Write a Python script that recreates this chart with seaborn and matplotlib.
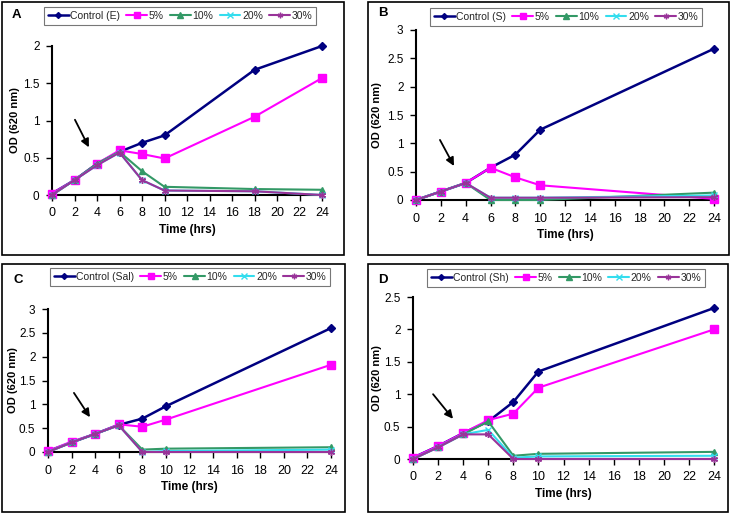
import matplotlib
matplotlib.use("Agg")
import matplotlib.pyplot as plt
import seaborn as sns
import pandas as pd
from matplotlib.patches import Rectangle
from matplotlib.lines import Line2D
from matplotlib.ticker import FuncFormatter, MultipleLocator

sns.set_theme(style="white")
plt.rcParams['font.family'] = ['Liberation Sans', 'DejaVu Sans']

# ---------------- data ----------------
time_A = [0, 2, 4, 6, 8, 10, 18, 24]
time_BCD = [0, 2, 4, 6, 8, 10, 24]

series_names = ["Control", "5%", "10%", "20%", "30%"]
control_labels = ["Control (E)", "Control (S)", "Control (Sal)", "Control (Sh)"]

A_control = [0.02, 0.20, 0.42, 0.58, 0.70, 0.80, 1.68, 2.00]
A_5 = [0.02, 0.20, 0.42, 0.60, 0.55, 0.49, 1.05, 1.57]
A_10 = [0.00, 0.20, 0.42, 0.58, 0.32, 0.11, 0.08, 0.07]
A_20 = [0.00, 0.20, 0.40, 0.57, 0.20, 0.06, 0.05, 0.00]
A_30 = [0.00, 0.20, 0.40, 0.57, 0.20, 0.06, 0.05, 0.00]

B_control = [0.00, 0.15, 0.30, 0.57, 0.80, 1.24, 2.67]
B_5 = [0.00, 0.15, 0.30, 0.57, 0.40, 0.26, 0.02]
B_10 = [0.00, 0.15, 0.30, 0.00, 0.00, 0.00, 0.13]
B_20 = [0.00, 0.15, 0.30, 0.04, 0.04, 0.04, 0.08]
B_30 = [0.00, 0.15, 0.30, 0.04, 0.04, 0.04, 0.05]

C_control = [0.02, 0.20, 0.38, 0.57, 0.70, 0.96, 2.60]
C_5 = [0.02, 0.22, 0.38, 0.58, 0.53, 0.68, 1.83]
C_10 = [0.00, 0.20, 0.38, 0.56, 0.05, 0.07, 0.10]
C_20 = [0.00, 0.20, 0.38, 0.56, 0.00, 0.02, 0.05]
C_30 = [0.00, 0.20, 0.38, 0.56, 0.00, 0.00, 0.00]

D_control = [0.02, 0.20, 0.40, 0.58, 0.88, 1.35, 2.33]
D_5 = [0.02, 0.20, 0.40, 0.60, 0.70, 1.10, 2.00]
D_10 = [0.00, 0.18, 0.38, 0.58, 0.05, 0.08, 0.11]
D_20 = [0.00, 0.18, 0.38, 0.45, 0.02, 0.04, 0.05]
D_30 = [0.00, 0.18, 0.38, 0.38, 0.00, 0.00, 0.00]

y_max = [2.0, 3.0, 3.0, 2.5]
panel_letters = ["A", "B", "C", "D"]
x_label = "Time (hrs)"
y_label = "OD (620 nm)"

# ---------------- styles ----------------
colors = ["#000080", "#FF00FF", "#339966", "#33DDEE", "#993399"]
markers = ["D", "s", "^", "x", (6, 2, 0)]
msizes = [4, 6, 5, 5, 5]
lwidths = [1.8, 1.5, 1.5, 1.5, 1.5]

W, H = 730, 515
fig = plt.figure(figsize=(W / 100, H / 100), dpi=100)
fig.patch.set_facecolor("white")

def fx(px):
    return px / W

def fy(py):
    return 1 - py / H

# axes pixel geometry: (x0, x24, ytop, ybottom)
axes_px = [(52, 322, 46, 195), (416, 714, 30, 200), (48, 331, 309, 452), (413, 714, 297, 459)]
boxes_px = [(2, 2, 344, 255), (368, 2, 729, 255), (2, 264, 345, 512), (368, 264, 728, 512)]
legend_px = [(180, 16), (566, 17), (190, 277), (566, 278)]
letter_px = [(12, 15), (378, 13), (14, 280), (378, 280)]
ylabel_x_px = [20, 382, 18, 382]   # right edge of the rotated label
arrows = [((2.04, 1.01), (3.28, 0.64)), ((1.93, 1.06), (3.06, 0.60)),
          ((2.2, 1.24), (3.56, 0.73)), ((1.6, 1.0), (3.19, 0.62))]

panels = [
    (time_A, [A_control, A_5, A_10, A_20, A_30]),
    (time_BCD, [B_control, B_5, B_10, B_20, B_30]),
    (time_BCD, [C_control, C_5, C_10, C_20, C_30]),
    (time_BCD, [D_control, D_5, D_10, D_20, D_30]),
]

for i, (times, ys) in enumerate(panels):
    bx0, by0, bx1, by1 = boxes_px[i]
    fig.patches.append(Rectangle((fx(bx0), fy(by1)), fx(bx1 - bx0), (by1 - by0) / H,
                                 transform=fig.transFigure, fill=False,
                                 edgecolor="black", linewidth=1.2))
    x0, x1, yt, yb = axes_px[i]
    ax = fig.add_axes([fx(x0), fy(yb), fx(x1 - x0), (yb - yt) / H])
    ax.set_facecolor("none")
    order = [2, 3, 4, 1, 0]
    for j in order:
        df = pd.DataFrame({"t": times, "od": ys[j]})
        sns.lineplot(data=df, x="t", y="od", ax=ax, color=colors[j],
                     marker=markers[j], markersize=msizes[j], linewidth=lwidths[j],
                     markeredgecolor=colors[j], markerfacecolor=colors[j],
                     markeredgewidth=1.0, clip_on=False, zorder=3 + j)
    handles = []
    for j in range(5):
        lab = control_labels[i] if j == 0 else series_names[j]
        handles.append(Line2D([], [], color=colors[j], marker=markers[j],
                              markersize=msizes[j] - 1, linewidth=lwidths[j],
                              markeredgecolor=colors[j], label=lab))
    ax.set_xlim(0, 24)
    ax.set_ylim(0, y_max[i])
    ax.xaxis.set_major_locator(MultipleLocator(2))
    ax.yaxis.set_major_locator(MultipleLocator(0.5))
    ax.yaxis.set_major_formatter(FuncFormatter(lambda v, p: f"{v:g}"))
    for s in ["top", "right"]:
        ax.spines[s].set_visible(False)
    for s in ["left", "bottom"]:
        ax.spines[s].set_color("black")
        ax.spines[s].set_linewidth(1.5)
    ax.tick_params(axis="x", which="major", direction="out", length=4, width=1,
                   color="black", labelsize=9, labelcolor="black", pad=5, bottom=True)
    ax.tick_params(axis="y", which="major", direction="out", length=4, width=1,
                   color="black", labelsize=8.5, labelcolor="black", pad=5, left=True)
    ax.set_xlabel(x_label, fontsize=8.5, fontweight="bold", color="black", labelpad=3)
    ax.set_ylabel(y_label, fontsize=8, fontweight="bold", color="black")
    ax.yaxis.set_label_coords((ylabel_x_px[i] - x0) / (x1 - x0), 0.5)
    (sx, sy), (tx, ty) = arrows[i]
    ax.annotate("", xy=(tx, ty), xytext=(sx, sy),
                arrowprops=dict(arrowstyle="-|>", color="black", lw=1.3,
                                mutation_scale=12, shrinkA=0, shrinkB=0))
    lx, ly = legend_px[i]
    leg = fig.legend(handles=handles, loc="center", bbox_to_anchor=(fx(lx), fy(ly)),
                     ncol=5, fontsize=7.5, frameon=True, fancybox=False,
                     edgecolor="#555555", handlelength=2.0, handletextpad=0.15,
                     columnspacing=0.6, borderpad=0.4, labelspacing=0.2)
    leg.get_frame().set_linewidth(0.8)
    px, py = letter_px[i]
    fig.text(fx(px), fy(py), panel_letters[i], fontsize=9.5, fontweight="bold",
             ha="left", va="center", color="black")

fig.savefig("out.png", dpi=100, facecolor="white")
